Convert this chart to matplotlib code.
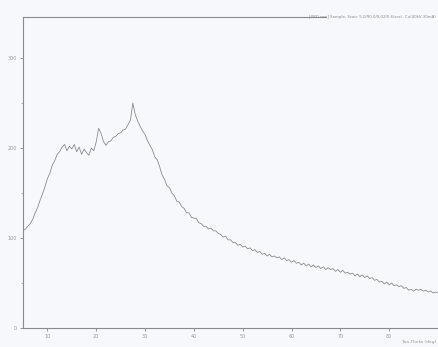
import numpy as np
import matplotlib
matplotlib.use("Agg")
import matplotlib.pyplot as plt

# scan positions (2-theta, degrees), step 0.5
two_theta = [
    5.0, 5.5, 6.0, 6.5, 7.0, 7.5, 8.0, 8.5, 9.0, 9.5,
    10.0, 10.5, 11.0, 11.5, 12.0, 12.5, 13.0, 13.5, 14.0, 14.5,
    15.0, 15.5, 16.0, 16.5, 17.0, 17.5, 18.0, 18.5, 19.0, 19.5,
    20.0, 20.5, 21.0, 21.5, 22.0, 22.5, 23.0, 23.5, 24.0, 24.5,
    25.0, 25.5, 26.0, 26.5, 27.0, 27.5, 28.0, 28.5, 29.0, 29.5,
    30.0, 30.5, 31.0, 31.5, 32.0, 32.5, 33.0, 33.5, 34.0, 34.5,
    35.0, 35.5, 36.0, 36.5, 37.0, 37.5, 38.0, 38.5, 39.0, 39.5,
    40.0, 40.5, 41.0, 41.5, 42.0, 42.5, 43.0, 43.5, 44.0, 44.5,
    45.0, 45.5, 46.0, 46.5, 47.0, 47.5, 48.0, 48.5, 49.0, 49.5,
    50.0, 50.5, 51.0, 51.5, 52.0, 52.5, 53.0, 53.5, 54.0, 54.5,
    55.0, 55.5, 56.0, 56.5, 57.0, 57.5, 58.0, 58.5, 59.0, 59.5,
    60.0, 60.5, 61.0, 61.5, 62.0, 62.5, 63.0, 63.5, 64.0, 64.5,
    65.0, 65.5, 66.0, 66.5, 67.0, 67.5, 68.0, 68.5, 69.0, 69.5,
    70.0, 70.5, 71.0, 71.5, 72.0, 72.5, 73.0, 73.5, 74.0, 74.5,
    75.0, 75.5, 76.0, 76.5, 77.0, 77.5, 78.0, 78.5, 79.0, 79.5,
    80.0, 80.5, 81.0, 81.5, 82.0, 82.5, 83.0, 83.5, 84.0, 84.5,
    85.0, 85.5, 86.0, 86.5, 87.0, 87.5, 88.0, 88.5, 89.0, 89.5,
    90.0,
]

# intensity (counts)
intensity = [
    108, 110, 113, 116, 121, 128, 134, 142, 149, 157,
    166, 172, 181, 186, 193, 196, 201, 204, 197, 202,
    199, 204, 196, 201, 193, 199, 195, 192, 200, 197,
    207, 222, 216, 207, 203, 207, 208, 212, 213, 216,
    217, 220, 221, 226, 231, 250, 237, 230, 224, 219,
    215, 208, 203, 198, 190, 187, 179, 170, 165, 158,
    156, 150, 147, 141, 140, 135, 133, 128, 128, 123,
    122, 122, 117, 116, 113, 113, 110, 111, 108, 108,
    105, 104, 101, 102, 98, 98, 95, 95, 92, 93,
    90, 91, 88, 89, 86, 87, 84, 85, 82, 83,
    80, 82, 79, 80, 78, 79, 76, 78, 75, 76,
    73, 75, 72, 73, 70, 72, 69, 71, 68, 70,
    67, 69, 66, 68, 65, 67, 65, 66, 63, 65,
    62, 64, 61, 62, 60, 61, 58, 60, 57, 59,
    56, 58, 55, 56, 53, 54, 51, 52, 49, 51,
    48, 50, 47, 48, 46, 47, 44, 45, 42, 43,
    41, 43, 42, 43, 41, 42, 40, 41, 39, 40,
    39,
]

x_ticks = [10, 20, 30, 40, 50, 60, 70, 80]
y_ticks = [0, 100, 200, 300]
header_text = "[XRD.raw] Sample, Scan: 5.0/90.0/0.02/0.6(sec), Cu(40kV,30mA)"
x_label = "Two-Theta (deg)"

bg = "#f6f8fc"
fig = plt.figure(figsize=(4.38, 3.47), dpi=100, facecolor=bg)
ax = fig.add_axes([0.0525, 0.0548, 0.9475, 0.896], facecolor=bg)

ax.plot(two_theta, intensity, color="#8c8c8c", lw=0.6)

ax.set_xlim(5, 90)
ax.set_ylim(0, 345.6)
ax.set_xticks(x_ticks)
ax.set_yticks(y_ticks)
ax.set_yticks([50, 150, 250], minor=True)

for s in ["top", "right"]:
    ax.spines[s].set_visible(False)
for s in ["left", "bottom"]:
    ax.spines[s].set_color("#8a8a8a")
    ax.spines[s].set_linewidth(0.8)

ax.tick_params(axis="both", which="major", length=2.5, width=0.6,
               color="#8a8a8a", labelsize=3.5, labelcolor="#999999", pad=2)
ax.tick_params(axis="y", which="minor", length=1.5, width=0.5, color="#9a9a9a")

# frame line along the top up to the header text
ax.plot([0, 0.73], [1, 1], transform=ax.transAxes, color="#8a8a8a", lw=0.8,
        clip_on=False)
ax.text(0.995, 1.0, header_text, transform=ax.transAxes, ha="right",
        va="center", fontsize=2.8, color="#888888")

fig.text(0.995, 0.008, x_label, ha="right", va="bottom", fontsize=3.2,
         color="#999999")

fig.savefig("out.png", dpi=100, facecolor=bg)
